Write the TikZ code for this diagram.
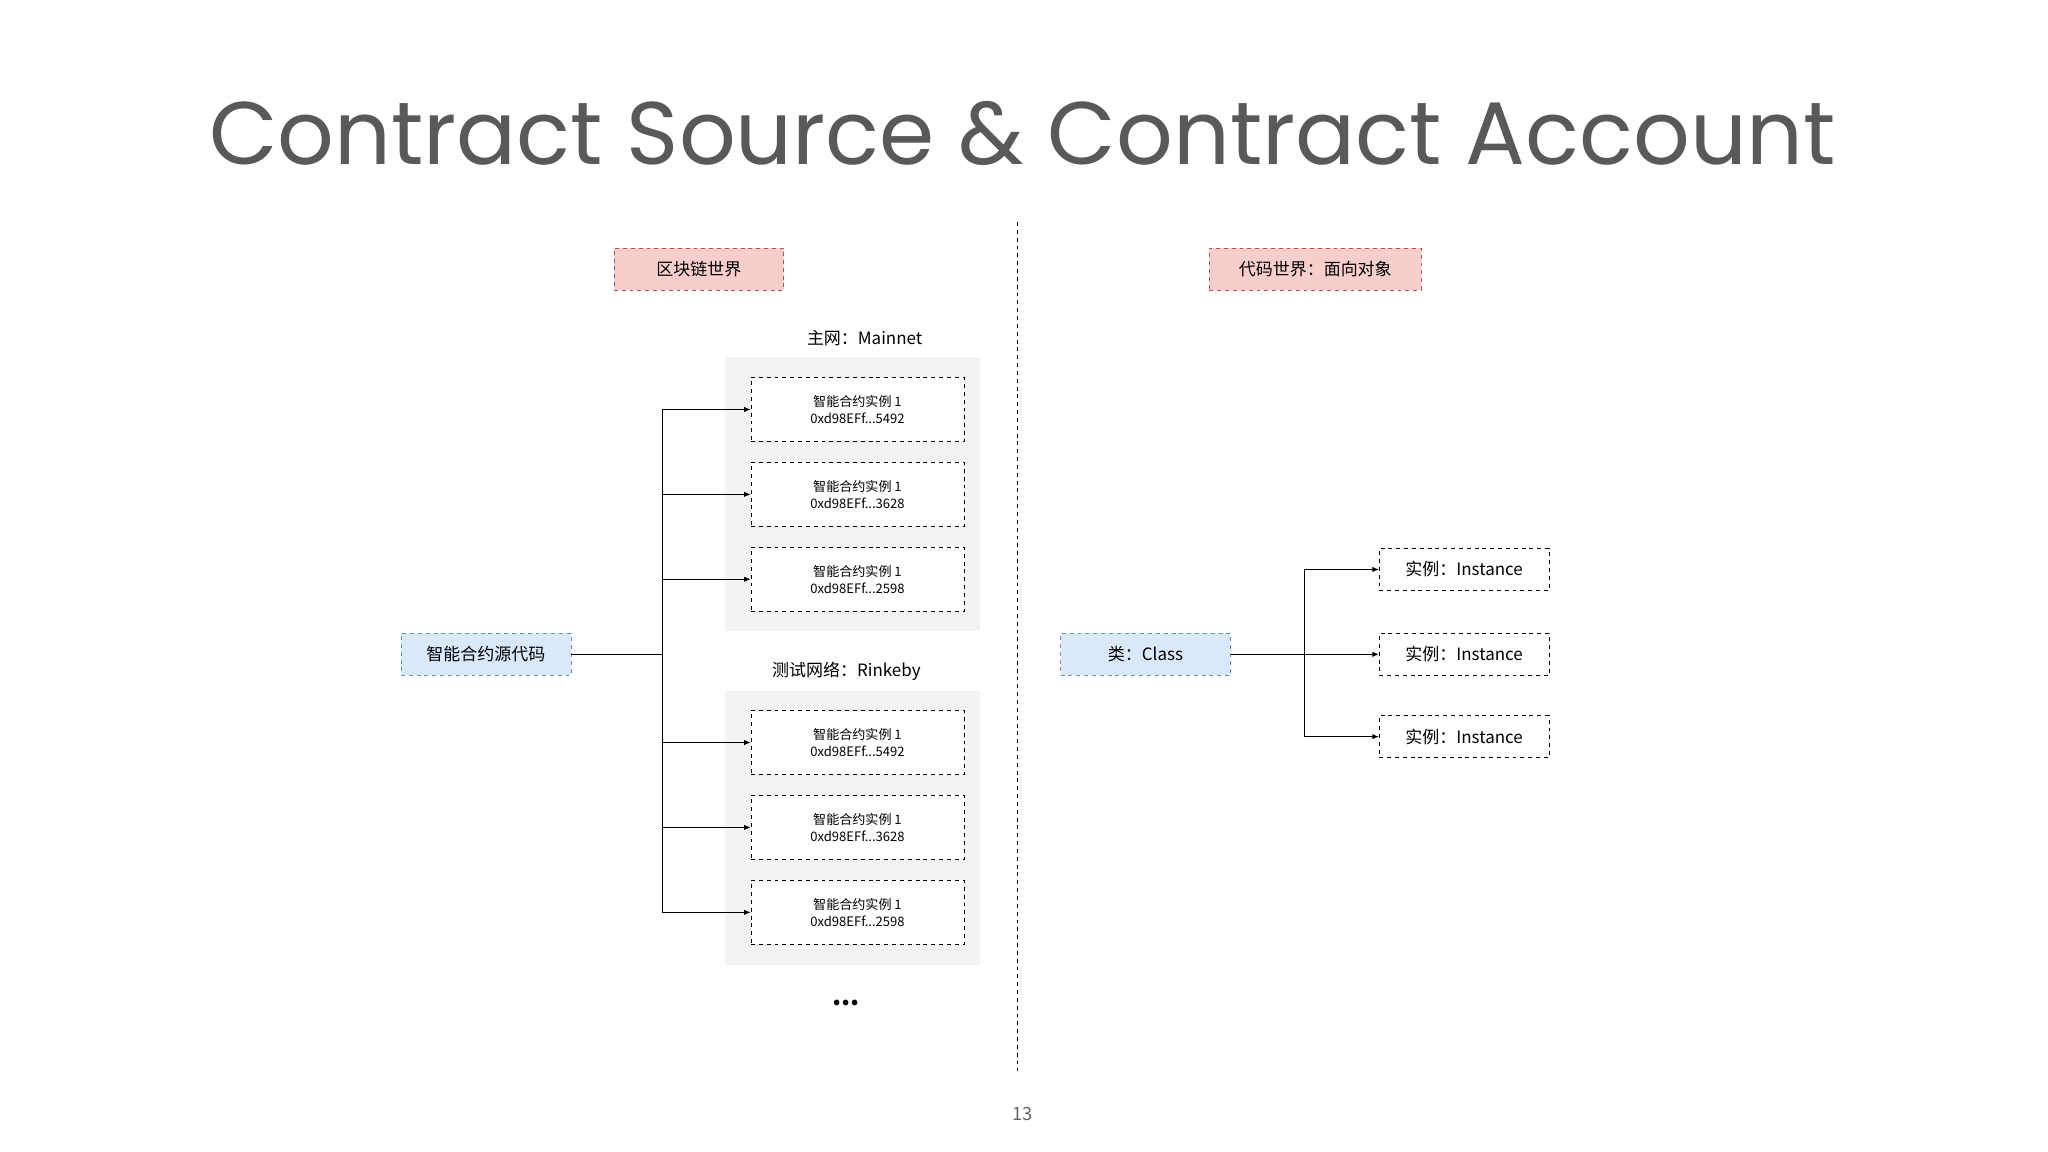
\documentclass[tikz,border=0pt]{standalone}
\usepackage{fontspec}
\setmainfont{Noto Sans CJK SC}
\newfontfamily\titlefont{Poppins}
\usetikzlibrary{arrows.meta}
\definecolor{pinkf}{HTML}{F8CECC}\definecolor{pinkd}{HTML}{B85450}
\definecolor{bluef}{HTML}{DAE8FC}\definecolor{blued}{HTML}{6C8EBF}
\definecolor{panel}{HTML}{F3F3F3}
\tikzset{
 pinkbox/.style={draw=pinkd,fill=pinkf,dashed,minimum width=130pt,minimum height=32pt,font=\fontsize{13}{15}\selectfont},
 bluebox/.style={draw=blued,fill=bluef,dashed,minimum width=130pt,minimum height=32pt,font=\fontsize{13}{15}\selectfont},
 inst/.style={draw=black,fill=white,dashed,minimum width=163pt,minimum height=49pt,align=center,font=\fontsize{10}{13}\selectfont},
 obj/.style={draw=black,fill=white,dashed,minimum width=130pt,minimum height=32pt,font=\fontsize{13}{15}\selectfont},
 conn/.style={line width=0.8pt},
 arr/.style={conn,-{Latex[length=5pt,width=4pt]}}
}
\begin{document}
\begin{tikzpicture}[x=1pt,y=-1pt]
\useasboundingbox[fill=white] (0,0) rectangle (1568,882);
\node[text=black!65,font=\titlefont\fontsize{68}{70}\selectfont] (title) at (783,102) {Contract Source \& Contract Account};
\draw[dashed,line width=1.2pt] (779,170) -- (779,820);
\node[text=black!60,font=\fontsize{14}{16}\selectfont] (pg) at (783,853) {13};
\node[pinkbox,minimum width=130pt] (w1) at (535,206) {区块链世界};
\node[pinkbox,minimum width=162pt] (w2) at (1007,206) {代码世界：面向对象};
\node[font=\fontsize{13}{15}\selectfont] (mn) at (662,259) {主网：Mainnet};
\fill[panel] (555,273) rectangle (750,483);
\node[font=\fontsize{13}{15}\selectfont] (tn) at (648,514) {测试网络：Rinkeby};
\fill[panel] (555,529) rectangle (750,739);
\foreach \n/\y/\a in {a/313.5/5492,b/378.5/3628,c/443.5/2598,d/568.5/5492,e/633.5/3628,f/698.5/2598}{
 \node[inst] (\n) at (656.5,\y) {智能合约实例 1\\0xd98EFf...\a};
}
\node[font=\fontsize{20}{20}\selectfont\bfseries] (dots) at (648,768) {...};
\node[bluebox] (src) at (372,501) {智能合约源代码};
\coordinate (j1) at (507,501);
\draw[conn] (src.east) -- (j1);
\draw[conn] (507,313.5) -- (507,698.5);
\foreach \n in {a,b,c,d,e,f}{\draw[arr] (507,0 |- \n.west) -- (\n.west);}
\node[bluebox] (cls) at (877,501) {类：Class};
\node[obj] (i1) at (1121,436) {实例：Instance};
\node[obj] (i2) at (1121,501) {实例：Instance};
\node[obj] (i3) at (1121,564) {实例：Instance};
\draw[conn] (cls.east) -- (999,501);
\draw[conn] (999,436) -- (999,564);
\foreach \n in {i1,i2,i3}{\draw[arr] (999,0 |- \n.west) -- (\n.west);}
\end{tikzpicture}
\end{document}
